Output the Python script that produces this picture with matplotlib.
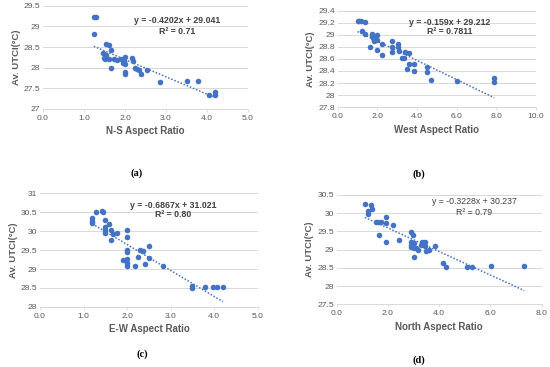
import matplotlib
matplotlib.use("Agg")
import matplotlib.pyplot as plt
import numpy as np

plt.rcParams['font.family'] = ['Liberation Sans', 'DejaVu Sans']

# Panel (a): N-S aspect ratio
ns_x = [1.24, 1.30, 1.24, 1.53, 1.62, 1.46, 1.54, 1.52, 1.66, 1.67, 1.74, 1.80, 1.91, 1.97,
        2.00, 2.00, 2.00, 2.00, 2.16, 2.20, 2.24, 2.35, 2.38, 2.53, 2.85, 3.50, 3.77, 4.05,
        4.19, 4.19, 1.48, 1.60, 1.95, 2.30]
ns_y = [29.22, 29.22, 28.81, 28.57, 28.55, 28.36, 28.30, 28.20, 28.44, 28.00, 28.20, 28.18,
        28.20, 28.16, 28.27, 28.10, 27.90, 27.85, 28.24, 28.16, 28.00, 27.95, 27.85, 27.94,
        27.66, 27.67, 27.68, 27.35, 27.40, 27.33, 28.24, 28.22, 28.12, 27.98]
ns_fit = (-0.4202, 29.041)
ns_eq = ["y = -0.4202x + 29.041", "R² = 0.71"]

# Panel (b): West aspect ratio
w_x = [1.00, 1.10, 1.18, 1.38, 1.25, 1.38, 1.63, 1.72, 1.80, 1.89, 1.97, 2.00, 2.00, 2.22,
       2.25, 2.73, 2.73, 2.76, 3.03, 3.06, 3.10, 3.23, 3.35, 3.40, 3.62, 3.48, 3.60, 3.87,
       3.87, 4.51, 4.51, 4.70, 6.00, 7.90, 7.90, 1.75, 1.85]
w_y = [29.23, 29.23, 29.23, 29.21, 29.06, 29.02, 28.79, 29.02, 28.94, 28.96, 28.99, 28.92,
       28.75, 28.85, 28.67, 28.90, 28.71, 28.80, 28.84, 28.79, 28.73, 28.61, 28.61, 28.71,
       28.70, 28.44, 28.52, 28.52, 28.40, 28.46, 28.39, 28.25, 28.24, 28.28, 28.21, 28.98, 28.90]
w_fit = (-0.159, 29.212)
w_eq = ["y = -0.159x + 29.212", "R² = 0.7811"]

# Panel (c): E-W aspect ratio
ew_x = [1.20, 1.20, 1.20, 1.29, 1.42, 1.44, 1.50, 1.50, 1.50, 1.50, 1.59, 1.64, 1.68, 1.64,
        1.76, 2.00, 2.00, 1.90, 2.00, 2.00, 2.00, 2.00, 2.00, 2.17, 2.24, 2.30, 2.37, 2.40,
        2.50, 2.51, 2.83, 3.50, 3.50, 3.78, 3.98, 4.07, 4.20]
ew_y = [30.35, 30.28, 30.22, 30.50, 30.53, 30.50, 30.30, 30.10, 30.02, 29.95, 30.19, 30.04,
        29.93, 29.77, 29.95, 30.02, 29.85, 29.23, 29.49, 29.45, 29.26, 29.17, 29.09, 29.09,
        29.33, 29.49, 29.47, 29.14, 29.29, 29.62, 29.07, 28.56, 28.50, 28.52, 28.52, 28.52, 28.52]
ew_fit = (-0.6867, 31.021)
ew_eq = ["y = -0.6867x + 31.021", "R² = 0.80"]

# Panel (d): North aspect ratio
n_x = [1.10, 1.34, 1.39, 1.24, 1.24, 1.52, 1.63, 1.73, 1.65, 1.94, 1.94, 1.94, 2.20, 2.43,
       2.90, 2.99, 2.90, 2.90, 2.90, 3.00, 3.03, 3.03, 3.19, 3.33, 3.46, 3.44, 3.47, 3.60,
       3.84, 4.16, 4.25, 5.07, 5.27, 6.02, 7.32, 3.10, 3.30]
n_y = [30.25, 30.23, 30.11, 30.05, 29.97, 29.75, 29.75, 29.75, 29.40, 29.90, 29.72, 29.20,
       29.68, 29.25, 29.47, 29.40, 29.22, 29.13, 29.08, 28.79, 29.04, 29.17, 28.99, 29.22,
       29.22, 29.10, 28.97, 28.99, 29.10, 28.63, 28.52, 28.52, 28.52, 28.54, 28.54, 29.05, 29.12]
n_fit = (-0.3228, 30.237)
n_eq = ["y = -0.3228x + 30.237", "R² = 0.79"]

panels = [
    dict(x=ns_x, y=ns_y, fit=ns_fit, eq=ns_eq, xlabel="N-S Aspect Ratio",
         xlim=(0, 5), xticks=np.arange(0, 5.01, 1.0), ylim=(27, 29.5), yticks=np.arange(27, 29.51, 0.5),
         pos=[0.078, 0.703, 0.373, 0.281], eqpos=(0.654, 0.854, 0.748), eqbold=True,
         cap="(a)", cappos=(137, 173)),
    dict(x=w_x, y=w_y, fit=w_fit, eq=w_eq, xlabel="West Aspect Ratio",
         xlim=(0, 10), xticks=np.arange(0, 10.01, 2.0), ylim=(27.8, 29.4), yticks=np.arange(27.8, 29.41, 0.2),
         pos=[0.614, 0.708, 0.360, 0.263], eqpos=(0.567, 0.876, 0.783), eqbold=True,
         cap="(b)", cappos=(419, 174)),
    dict(x=ew_x, y=ew_y, fit=ew_fit, eq=ew_eq, xlabel="E-W Aspect Ratio",
         xlim=(0, 5), xticks=np.arange(0, 5.01, 1.0), ylim=(28, 31), yticks=np.arange(28, 31.01, 0.5),
         pos=[0.0727, 0.164, 0.396, 0.309], eqpos=(0.612, 0.897, 0.811), eqbold=True,
         cap="(c)", cappos=(142, 354)),
    dict(x=n_x, y=n_y, fit=n_fit, eq=n_eq, xlabel="North Aspect Ratio",
         xlim=(0, 8), xticks=np.arange(0, 8.01, 2.0), ylim=(27.5, 30.5), yticks=np.arange(27.5, 30.51, 0.5),
         pos=[0.612, 0.171, 0.373, 0.298], eqpos=(0.67, 0.939, 0.838), eqbold=False,
         cap="(d)", cappos=(419, 360)),
]

W, H = 550, 367
fig = plt.figure(figsize=(5.5, 3.67), dpi=100)
fig.patch.set_facecolor("white")
blue = "#4472C4"
gray_txt = "#595959"

for p in panels:
    ax = fig.add_axes(p["pos"])
    ax.set_xlim(*p["xlim"])
    ax.set_ylim(*p["ylim"])
    ax.set_xticks(p["xticks"])
    ax.set_yticks(p["yticks"])
    ax.set_xticklabels(["{:.1f}".format(v) for v in p["xticks"]])
    ax.set_yticklabels(["{:g}".format(round(v, 2)) for v in p["yticks"]])
    ax.tick_params(axis="both", labelsize=6.1, colors=gray_txt, length=0, pad=2)
    ax.tick_params(axis="x", length=2.5, color="#D9D9D9", direction="out", width=0.6)
    ax.grid(axis="y", color="#D9D9D9", linewidth=0.7)
    ax.set_axisbelow(True)
    for s in ["top", "right", "left"]:
        ax.spines[s].set_visible(False)
    ax.spines["bottom"].set_color("#D9D9D9")
    ax.spines["bottom"].set_linewidth(0.7)
    ax.set_xlabel(p["xlabel"], fontsize=7.0, fontweight="bold", color=gray_txt, labelpad=3)
    ax.set_ylabel("Av. UTCI(°C)", fontsize=6.8, fontweight="bold", color=gray_txt, labelpad=2)
    ax.scatter(p["x"], p["y"], s=16, color=blue, zorder=3, linewidths=0)
    m, b = p["fit"]
    xs = np.array([min(p["x"]), max(p["x"])])
    ax.plot(xs, m * xs + b, linestyle=(0, (1, 1.2)), color=blue, linewidth=1.1, zorder=2)
    ex, ey1, ey2 = p["eqpos"]
    fw = "bold" if p["eqbold"] else "normal"
    ax.text(ex, ey1, p["eq"][0], transform=ax.transAxes, ha="center", va="center",
            fontsize=6.3, fontweight=fw, color="#404040")
    ax.text(ex, ey2, p["eq"][1], transform=ax.transAxes, ha="center", va="center",
            fontsize=6.3, fontweight=fw, color="#404040")
    cx, cy = p["cappos"]
    fig.text(cx / W, 1 - cy / H, p["cap"], ha="center", va="center", fontsize=7.5,
             fontweight="bold", family=["Liberation Serif", "DejaVu Serif"], color="black")

fig.savefig("out.png", dpi=100, facecolor="white")
